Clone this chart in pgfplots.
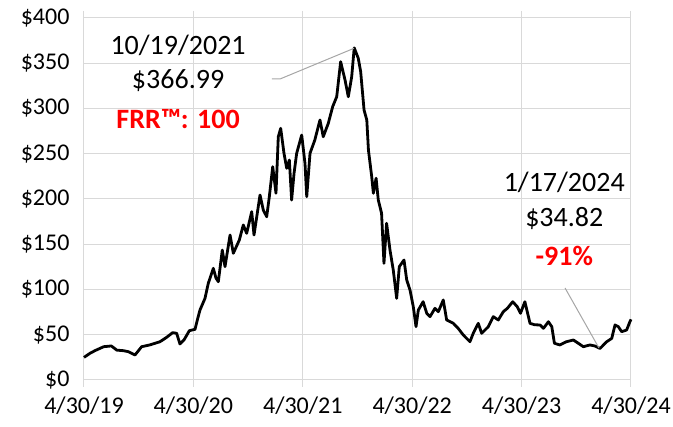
\documentclass[border=0pt]{standalone}
\usepackage{fontspec}
\setmainfont{Carlito}
\usepackage{pgfplots}
\pgfplotsset{compat=1.18}
\definecolor{gridgray}{HTML}{D9D9D9}
\definecolor{leadgray}{HTML}{A6A6A6}
\definecolor{frrred}{HTML}{FF0000}

\begin{document}
\begin{tikzpicture}
\begin{axis}[
    scale only axis, width=547pt, height=362pt,
    xmin=0, xmax=5, ymin=0, ymax=400,
    xtick={0,1,2,3,4,5},
    xticklabels={4/30/19,4/30/20,4/30/21,4/30/22,4/30/23,4/30/24},
    ytick={0,50,100,150,200,250,300,350,400},
    yticklabels={\$0,\$50,\$100,\$150,\$200,\$250,\$300,\$350,\$400},
    grid=major, major grid style={gridgray, line width=1pt},
    axis line style={draw=none},
    tick align=outside, major tick length=7pt,
    xtick style={gridgray, line width=1pt},
    ytick style={draw=none},
    tick label style={font=\fontsize{24}{28}\selectfont},
    xticklabel style={yshift=-6pt},
    yticklabel style={xshift=-4pt},
    clip=false,
  ]
  \addplot[black, line width=2.8pt, line join=round] coordinates {
    (0,25) (0.055,29.5) (0.10,32.4) (0.18,36.8) (0.25,37.6) (0.30,33) (0.36,32.4)
    (0.405,31.3) (0.466,27.6) (0.527,36.8) (0.60,38.7) (0.695,42.3) (0.756,47.2)
    (0.81,52.3) (0.847,51.6) (0.877,39.8) (0.914,44.2) (0.963,54.5) (1.015,56)
    (1.036,66.3) (1.06,77.3) (1.106,90.2) (1.136,106.8) (1.182,123.4) (1.207,112.4)
    (1.228,108.6) (1.264,143.6) (1.289,125.2) (1.335,160.2) (1.365,140) (1.42,154.7)
    (1.456,171.3) (1.487,162.1) (1.533,186) (1.554,160.2) (1.609,204.4) (1.639,187.8)
    (1.67,180.4) (1.694,202.5) (1.725,235.7) (1.755,206.3) (1.776,268.8) (1.798,278.1)
    (1.828,250.5) (1.853,233.9) (1.877,243) (1.898,198.9) (1.92,228.4) (1.944,250.5)
    (1.99,270.7) (2.02,239.4) (2.036,202.5) (2.066,250.5) (2.11,265.2) (2.157,287.3)
    (2.187,268.8) (2.233,283.6) (2.273,302) (2.31,313) (2.346,351.7) (2.386,331.5)
    (2.416,313) (2.447,335.1) (2.47,366.99) (2.507,355.5) (2.529,340.7) (2.56,298.3)
    (2.585,287.3) (2.6,254.1) (2.63,224.6) (2.645,206.3) (2.67,222.9) (2.69,198.9)
    (2.72,184.2) (2.742,128.9) (2.766,173.1) (2.797,143.6) (2.827,121.5) (2.858,90.2)
    (2.882,125.2) (2.925,132.6) (2.95,110.5) (2.98,99.4) (3.01,81) (3.035,58.9)
    (3.056,77.3) (3.1,86.5) (3.133,73.7) (3.163,70) (3.208,79.2) (3.239,75.5)
    (3.284,88.4) (3.315,66.3) (3.376,62.6) (3.42,57.1) (3.467,49.7) (3.528,42.3)
    (3.558,51.6) (3.604,62.6) (3.635,51.6) (3.696,58.9) (3.741,70) (3.787,66.3)
    (3.833,75.5) (3.87,79.2) (3.919,86.5) (3.96,81) (3.99,73.7) (4.03,86.5)
    (4.077,62.6) (4.12,61) (4.168,60.8) (4.2,57.1) (4.245,64.4) (4.276,58.9)
    (4.3,40.6) (4.35,38.7) (4.41,42.3) (4.473,44.2) (4.518,40.6) (4.564,36.8)
    (4.625,38.7) (4.67,37.6) (4.717,34.82) (4.778,42.3) (4.824,46) (4.854,60.8)
    (4.884,58.9) (4.915,53.4) (4.96,55.2) (4.99,64.4) (5.0,67)
  };
  % peak callout
  \draw[leadgray, line width=1pt] (axis cs:1.718,332.6) -- (axis cs:1.792,332.6) -- (axis cs:2.468,366.5);
  \node[font=\fontsize{28}{32}\selectfont] at (axis cs:0.86,370) {10/19/2021};
  \node[font=\fontsize{28}{32}\selectfont] at (axis cs:0.86,331) {\$366.99};
  \node[font=\fontsize{28}{32}\selectfont\bfseries, text=frrred] at (axis cs:0.86,288) {FRR™: 100};
  % latest callout
  \draw[leadgray, line width=1pt] (axis cs:4.397,101.7) -- (axis cs:4.707,35.4);
  \node[font=\fontsize{28}{32}\selectfont] at (axis cs:4.39,218) {1/17/2024};
  \node[font=\fontsize{28}{32}\selectfont] at (axis cs:4.39,178) {\$34.82};
  \node[font=\fontsize{28}{32}\selectfont\bfseries, text=frrred] at (axis cs:4.39,137) {-91\%};
\end{axis}
\pgfresetboundingbox
\useasboundingbox (-84pt,-47pt) rectangle (589pt,380pt);
\end{tikzpicture}
\end{document}
